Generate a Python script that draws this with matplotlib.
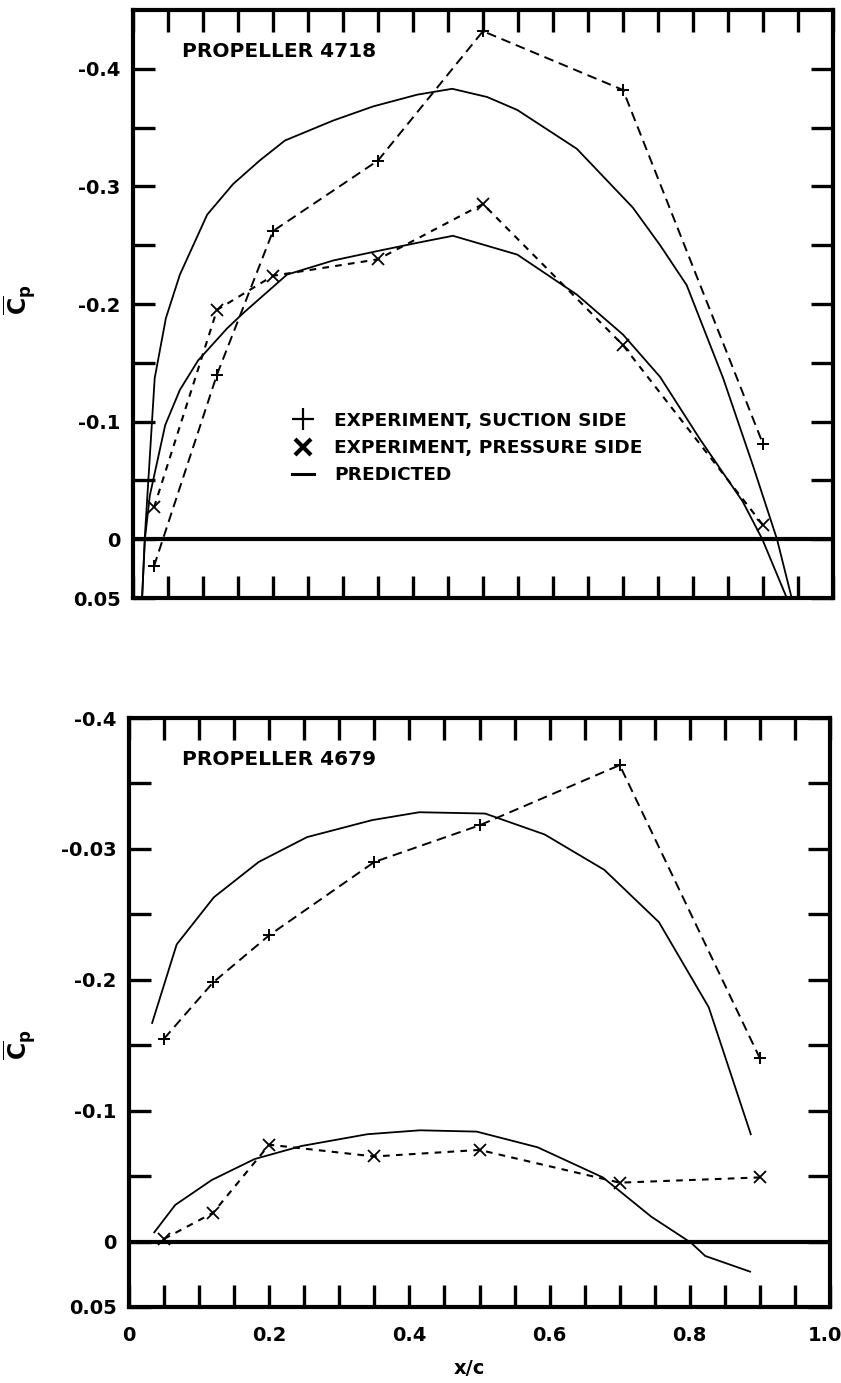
import numpy as np
import matplotlib
matplotlib.use("Agg")
import matplotlib.pyplot as plt
import matplotlib.transforms as mtransforms
from matplotlib.lines import Line2D

plt.rcParams['font.family'] = ['DejaVu Sans']
plt.rcParams['font.weight'] = 'bold'
plt.rcParams['mathtext.fontset'] = 'dejavusans'

# ---------------- Propeller 4718 ----------------
p4718_suction_x = [0.03, 0.12, 0.20, 0.35, 0.50, 0.70, 0.90]
p4718_suction_cp = [0.023, -0.14, -0.262, -0.322, -0.432, -0.382, -0.081]

p4718_pressure_x = [0.03, 0.12, 0.20, 0.35, 0.50, 0.70, 0.90]
p4718_pressure_cp = [-0.027, -0.195, -0.224, -0.238, -0.285, -0.165, -0.012]

p4718_pred_suction_x = [0.013, 0.017, 0.031, 0.047, 0.067, 0.106, 0.143, 0.181,
                        0.217, 0.286, 0.343, 0.406, 0.456, 0.506, 0.549, 0.634,
                        0.714, 0.753, 0.791, 0.843, 0.886, 0.920, 0.941]
p4718_pred_suction_cp = [0.05, -0.003, -0.137, -0.188, -0.225, -0.276, -0.302, -0.322,
                         -0.339, -0.356, -0.368, -0.378, -0.383, -0.376, -0.365, -0.332,
                         -0.282, -0.250, -0.216, -0.137, -0.062, 0.0, 0.05]

p4718_pred_pressure_x = [0.013, 0.017, 0.024, 0.046, 0.067, 0.093, 0.134, 0.157,
                         0.220, 0.286, 0.349, 0.406, 0.457, 0.549, 0.634, 0.700,
                         0.753, 0.810, 0.871, 0.899, 0.934]
p4718_pred_pressure_cp = [0.05, 0.0, -0.037, -0.097, -0.127, -0.152, -0.179, -0.192,
                          -0.225, -0.237, -0.245, -0.252, -0.258, -0.242, -0.208, -0.174,
                          -0.138, -0.085, -0.032, 0.0, 0.05]

# ---------------- Propeller 4679 ----------------
p4679_suction_x = [0.05, 0.12, 0.20, 0.35, 0.50, 0.70, 0.90]
p4679_suction_cp = [-0.155, -0.198, -0.234, -0.290, -0.318, -0.364, -0.140]

p4679_pressure_x = [0.05, 0.12, 0.20, 0.35, 0.50, 0.70, 0.90]
p4679_pressure_cp = [-0.002, -0.022, -0.074, -0.065, -0.070, -0.045, -0.049]

p4679_pred_suction_x = [0.033, 0.068, 0.121, 0.185, 0.254, 0.347, 0.414, 0.508,
                        0.593, 0.678, 0.756, 0.827, 0.887]
p4679_pred_suction_cp = [-0.167, -0.227, -0.263, -0.290, -0.309, -0.322, -0.328, -0.327,
                         -0.311, -0.284, -0.244, -0.179, -0.082]

p4679_pred_pressure_x = [0.036, 0.066, 0.118, 0.179, 0.246, 0.340, 0.415, 0.496,
                         0.583, 0.676, 0.745, 0.802, 0.822, 0.886]
p4679_pred_pressure_cp = [-0.007, -0.028, -0.047, -0.063, -0.073, -0.082, -0.085, -0.084,
                          -0.072, -0.049, -0.019, 0.001, 0.011, 0.023]

# tick labels
top_ytick_vals = [-0.4, -0.3, -0.2, -0.1, 0.0, 0.05]
top_ytick_labels = ['-0.4', '-0.3', '-0.2', '-0.1', '0', '0.05']
bot_ytick_vals = [-0.4, -0.3, -0.2, -0.1, 0.0, 0.05]
bot_ytick_labels = ['-0.4', '-0.03', '-0.2', '-0.1', '0', '0.05']
xtick_vals = [0.0, 0.2, 0.4, 0.6, 0.8, 1.0]
xtick_labels = ['0', '0.2', '0.4', '0.6', '0.8', '1.0']

W, H = 841, 1383
fig = plt.figure(figsize=(W / 100, H / 100), dpi=100)
fig.patch.set_facecolor('white')

ax1 = fig.add_axes([133 / W, 1 - 598 / H, 700 / W, 588 / H])
ax2 = fig.add_axes([129 / W, 1 - 1307 / H, 701 / W, 589 / H])

SUCTION_DASH = (5, 3)
PRESSURE_DASH = (3.2, 3)


def style_axes(ax, ylim, yvals, ylabels, show_xlabels):
    ax.set_xlim(0, 1.0)
    ax.set_ylim(*ylim)
    for s in ax.spines.values():
        s.set_linewidth(3)
    minor_x = np.round(np.arange(0.05, 0.96, 0.05), 2)
    ax.set_xticks(minor_x, minor=True)
    ax.set_xticks(xtick_vals)
    if show_xlabels:
        ax.set_xticklabels(xtick_labels)
    else:
        ax.set_xticklabels([])
    yminor = np.round(np.arange(-0.4, 0.051, 0.05), 2)
    ax.set_yticks(yminor, minor=True)
    ax.set_yticks(yvals)
    ax.set_yticklabels(ylabels)
    ax.tick_params(which='both', direction='in', top=True, right=True,
                   length=16, width=2.4)
    ax.tick_params(axis='y', which='major', labelsize=14, pad=9)
    ax.tick_params(axis='x', which='major', labelsize=14, pad=14)
    for lab in ax.get_xticklabels() + ax.get_yticklabels():
        lab.set_fontweight('bold')
    ax.axhline(0, color='black', lw=3, zorder=1)


def draw_panel(ax, sx, sy, px, py, psx, psy, ppx, ppy):
    ax.plot(psx, psy, color='black', lw=1.3, zorder=3)
    ax.plot(ppx, ppy, color='black', lw=1.3, zorder=3)
    ax.plot(sx, sy, color='black', lw=1.4, dashes=SUCTION_DASH,
            marker='+', markersize=8, markeredgewidth=1.4, zorder=4)
    ax.plot(px, py, color='black', lw=1.5, dashes=PRESSURE_DASH,
            marker='x', markersize=8, markeredgewidth=1.3, zorder=4)


draw_panel(ax1, p4718_suction_x, p4718_suction_cp, p4718_pressure_x, p4718_pressure_cp,
           p4718_pred_suction_x, p4718_pred_suction_cp,
           p4718_pred_pressure_x, p4718_pred_pressure_cp)
style_axes(ax1, (0.05, -0.45), top_ytick_vals, top_ytick_labels, False)

draw_panel(ax2, p4679_suction_x, p4679_suction_cp, p4679_pressure_x, p4679_pressure_cp,
           p4679_pred_suction_x, p4679_pred_suction_cp,
           p4679_pred_pressure_x, p4679_pred_pressure_cp)
style_axes(ax2, (0.05, -0.4), bot_ytick_vals, bot_ytick_labels, True)

# keep the last x label inside the page edge
last_lab = ax2.get_xticklabels()[-1]
last_lab.set_transform(last_lab.get_transform() +
                       mtransforms.ScaledTranslation(-5 / 100, 0, fig.dpi_scale_trans))

# panel titles
ax1.text(0.07, 0.930, 'PROPELLER 4718', transform=ax1.transAxes,
         fontsize=14.5, fontweight='bold', va='center', ha='left')
ax2.text(0.0756, 0.929, 'PROPELLER 4679', transform=ax2.transAxes,
         fontsize=14.5, fontweight='bold', va='center', ha='left')

# axis labels
cp_label = r'$\overline{\mathbf{C}}_{\mathbf{p}}$'
ax1.set_ylabel(cp_label, fontsize=17, rotation=90)
ax1.yaxis.set_label_coords(-0.136, 0.507)
ax2.set_ylabel(cp_label, fontsize=17, rotation=90)
ax2.yaxis.set_label_coords(-0.130, 0.445)
ax2.set_xlabel('x/c', fontsize=14, fontweight='bold', va='center')
ax2.xaxis.set_label_coords(0.485, -0.105)

# legend
handles = [
    Line2D([], [], color='black', ls='none', marker='+', markersize=16,
           markeredgewidth=1.6),
    Line2D([], [], color='black', ls='none', marker='x', markersize=11,
           markeredgewidth=3.0),
    Line2D([], [], color='black', lw=2.2),
]
labels = ['EXPERIMENT, SUCTION SIDE', 'EXPERIMENT, PRESSURE SIDE', 'PREDICTED']
leg = ax1.legend(handles, labels, loc='center left', bbox_to_anchor=(0.227, 0.255),
                 frameon=False, borderpad=0, borderaxespad=0, handlelength=1.2,
                 handletextpad=1.1, labelspacing=0.5,
                 prop={'size': 13.3, 'weight': 'bold'})

fig.savefig('out.png', dpi=100, facecolor='white')
